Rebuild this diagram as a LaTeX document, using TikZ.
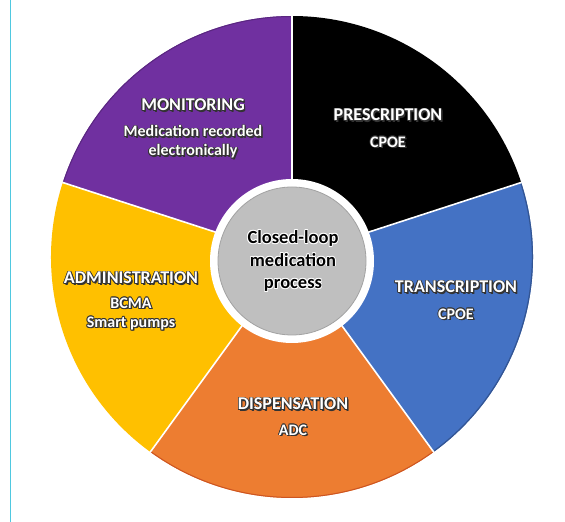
\documentclass[tikz,border=0pt]{standalone}
\usepackage{fontspec}
\setmainfont{Carlito}
\definecolor{cpurple}{HTML}{7030A0}
\definecolor{cblack}{HTML}{000000}
\definecolor{cblue}{HTML}{4472C4}
\definecolor{corange}{HTML}{ED7D31}
\definecolor{cyellow}{HTML}{FFC000}
\definecolor{cgray}{HTML}{BFBFBF}
\definecolor{cline}{HTML}{4FC8E0}
\tikzset{
  lbltxt/.style={inner sep=0pt, align=center, font=\bfseries},
  head/.style={lbltxt, font=\bfseries\fontsize{18}{20}\selectfont},
  sub/.style={lbltxt, font=\bfseries\fontsize{16}{19}\selectfont},
  ctr/.style={lbltxt, font=\bfseries\fontsize{18.5}{22.5}\selectfont},
  sep/.style={white, line width=1.6pt},
}
% white text with dark shadow
\newcommand{\shlbl}[4]{%
  \foreach \dx/\dy in {1.1/-1.1,-0.6/0.6,0.6/0.6,-0.6/-0.6,0.8/0,-0.8/0,0/0.8,0/-0.8,1.4/-1.4}
    \node[#1, text=black!80] at ([shift={(\dx pt,\dy pt)}]#2) {#4};
  \node[#1, text=white] (#3) at (#2) {#4};
}
% black text with white halo
\newcommand{\hllbl}[4]{%
  \foreach \dx/\dy in {0.8/0,-0.8/0,0/0.8,0/-0.8,0.6/0.6,-0.6/0.6,0.6/-0.6,-0.6/-0.6}
    \node[#1, text=white] at ([shift={(\dx pt,\dy pt)}]#2) {#4};
  \node[#1, text=black] (#3) at (#2) {#4};
}
\begin{document}
\begin{tikzpicture}[x=1pt,y=1pt]
\useasboundingbox (0,0) rectangle (565,522);
\fill[white] (0,0) rectangle (565,522);
\draw[cline, line width=1.4pt] (10.7,0) -- (10.7,522);
\coordinate (O) at (292,265);
\coordinate (I) at (292,261);
\def\R{241}
% slices
\fill[cblack]  (O) -- ++(18:\R)  arc[start angle=18,  end angle=90,  radius=\R] -- cycle;
\fill[cpurple] (O) -- ++(90:\R)  arc[start angle=90,  end angle=162, radius=\R] -- cycle;
\fill[cyellow] (O) -- ++(162:\R) arc[start angle=162, end angle=234, radius=\R] -- cycle;
\fill[corange] (O) -- ++(234:\R) arc[start angle=234, end angle=306, radius=\R] -- cycle;
\fill[cblue]   (O) -- ++(306:\R) arc[start angle=306, end angle=378, radius=\R] -- cycle;
% darker rims
\draw[cpurple!80!black, line width=1pt] ([shift={(90:\R-0.5)}]O) arc[start angle=90, end angle=162, radius=\R-0.5];
\draw[cblue!75!black, line width=1.2pt] ([shift={(306:\R-0.6)}]O) arc[start angle=306, end angle=378, radius=\R-0.6];
\draw[corange!80!red!85!black, line width=1pt] ([shift={(234:\R-0.5)}]O) arc[start angle=234, end angle=306, radius=\R-0.5];
% separators
\foreach \a in {18,90,162,234,306}
  \draw[sep] (O) -- ++(\a:\R+0.5);
% centre
\fill[white] (I) circle[radius=82];
\filldraw[fill=cgray, draw=cgray!85!black, line width=0.8pt] (I) circle[radius=74];
% labels
\shlbl{head}{193,417}{monh}{MONITORING}
\shlbl{sub}{193,380}{mons}{Medication recorded\\electronically}
\shlbl{head}{388,407}{preh}{PRESCRIPTION}
\shlbl{sub}{388,380}{pres}{CPOE}
\shlbl{head}{456,235}{trah}{TRANSCRIPTION}
\shlbl{sub}{456,208}{tras}{CPOE}
\shlbl{head}{293,118}{dish}{DISPENSATION}
\shlbl{sub}{293,92}{diss}{ADC}
\shlbl{head}{131,244}{admh}{ADMINISTRATION}
\shlbl{sub}{131,208}{adms}{BCMA\\Smart pumps}
\hllbl{ctr}{293,261}{ctrl}{Closed-loop\\medication\\process}
\end{tikzpicture}
\end{document}
